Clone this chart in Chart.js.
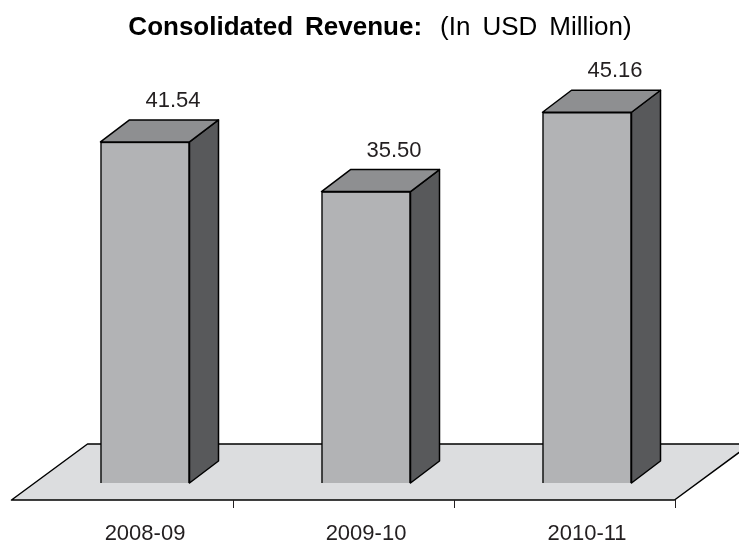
<!DOCTYPE html>
<html>
<head>
<meta charset="utf-8">
<title>Consolidated Revenue</title>
<script src="https://cdn.jsdelivr.net/npm/chart.js@4/dist/chart.umd.min.js"></script>
<style>
	html, body { margin: 0; padding: 0; background: #ffffff; }
	#wrap { width: 739px; height: 540px; }
</style>
</head>
<body>
<div id="wrap"><canvas id="revenue-chart" width="739" height="540"></canvas></div>
<script>
// revenue per financial year, USD million
const years = [ '2008-09', '2009-10', '2010-11' ];
const revenue = [ 41.54, 35.50, 45.16 ];

const fontFamily = "'Liberation Sans', Arial, Helvetica, sans-serif";
const textColor = '#231f20';

// bar depth (side + top faces) and floor geometry
const depth = { dx: 29, dy: -22 };
const floor = { shiftX: -23, shiftY: 17, dx: 76, dy: -56 };

/**
 * Floor under the bars, with tick marks at category boundaries.
 */
const floorPlugin = {
	id: 'floor3d',
	beforeDatasetsDraw: function ( chart ) {
		const ctx = chart.ctx;
		const area = chart.chartArea;
		const x0 = area.left + floor.shiftX;
		const x1 = area.right + floor.shiftX;
		const y0 = area.bottom + floor.shiftY;

		ctx.save();
		ctx.beginPath();
		ctx.moveTo( x0, y0 );
		ctx.lineTo( x1, y0 );
		ctx.lineTo( x1 + floor.dx, y0 + floor.dy );
		ctx.lineTo( x0 + floor.dx, y0 + floor.dy );
		ctx.closePath();
		ctx.fillStyle = '#dcdddf';
		ctx.fill();
		ctx.lineWidth = 1.5;
		ctx.lineJoin = 'round';
		ctx.strokeStyle = '#000000';
		ctx.stroke();

		// tick marks on the front edge
		const xScale = chart.scales.x;
		const half = ( xScale.getPixelForValue( 1 ) - xScale.getPixelForValue( 0 ) ) / 2;
		ctx.lineWidth = 1;
		ctx.strokeStyle = textColor;
		years.forEach( function ( year, i ) {
			const tx = Math.round( xScale.getPixelForValue( i ) + half + floor.shiftX ) + 0.5;
			ctx.beginPath();
			ctx.moveTo( tx, y0 );
			ctx.lineTo( tx, y0 + 8 );
			ctx.stroke();
		} );
		ctx.restore();
	}
};

/**
 * Side and top faces of each bar, plus the value on top.
 */
const boxPlugin = {
	id: 'box3d',
	afterDatasetsDraw: function ( chart ) {
		const ctx = chart.ctx;
		const meta = chart.getDatasetMeta( 0 );

		ctx.save();
		ctx.lineWidth = 1.5;
		ctx.lineJoin = 'round';
		ctx.strokeStyle = '#000000';

		meta.data.forEach( function ( bar, i ) {
			const left = bar.x - bar.width / 2;
			const right = bar.x + bar.width / 2;
			const top = bar.y;
			const bottom = bar.base;

			// side face
			ctx.beginPath();
			ctx.moveTo( right, top );
			ctx.lineTo( right + depth.dx, top + depth.dy );
			ctx.lineTo( right + depth.dx, bottom + depth.dy );
			ctx.lineTo( right, bottom );
			ctx.closePath();
			ctx.fillStyle = '#58595b';
			ctx.fill();
			ctx.stroke();

			// top face
			ctx.beginPath();
			ctx.moveTo( left, top );
			ctx.lineTo( left + depth.dx, top + depth.dy );
			ctx.lineTo( right + depth.dx, top + depth.dy );
			ctx.lineTo( right, top );
			ctx.closePath();
			ctx.fillStyle = '#8e8f91';
			ctx.fill();
			ctx.stroke();

			// value label
			ctx.fillStyle = textColor;
			ctx.font = '22px ' + fontFamily;
			ctx.textAlign = 'center';
			ctx.textBaseline = 'middle';
			ctx.fillText( revenue[i].toFixed( 2 ), bar.x + depth.dx - 1, top + depth.dy - 19 );
		} );
		ctx.restore();
	}
};

/**
 * Two-part title: bold caption followed by the unit, words spread a little.
 */
const titlePlugin = {
	id: 'mixedTitle',
	afterDraw: function ( chart ) {
		const ctx = chart.ctx;
		const parts = [
			{ text: 'Consolidated Revenue:', font: 'bold 26px ' + fontFamily },
			{ text: '(In USD Million)', font: '26px ' + fontFamily }
		];
		const wordGap = 12;
		const partGap = 18;

		ctx.save();
		ctx.fillStyle = '#000000';
		ctx.textBaseline = 'alphabetic';
		ctx.textAlign = 'left';

		// measure every word first so the whole line can be centred
		let total = 0;
		parts.forEach( function ( part, p ) {
			ctx.font = part.font;
			part.words = part.text.split( ' ' ).map( function ( w ) {
				return { text: w, width: ctx.measureText( w ).width };
			} );
			part.words.forEach( function ( w, i ) {
				total += w.width + ( i > 0 ? wordGap : 0 );
			} );
			if ( p > 0 )
				total += partGap;
		} );

		let x = 380 - total / 2;
		parts.forEach( function ( part, p ) {
			ctx.font = part.font;
			if ( p > 0 )
				x += partGap;
			part.words.forEach( function ( w, i ) {
				if ( i > 0 )
					x += wordGap;
				ctx.fillText( w.text, x, 35 );
				x += w.width;
			} );
		} );
		ctx.restore();
	}
};

new Chart( document.getElementById( 'revenue-chart' ).getContext( '2d' ), {
	type: 'bar',
	data: {
		labels: years,
		datasets: [ {
			data: revenue,
			backgroundColor: '#b2b3b5',
			borderColor: '#000000',
			borderWidth: 1.5,
			barThickness: 89
		} ]
	},
	options: {
		responsive: false,
		animation: false,
		layout: {
			padding: { top: 72.5, left: 34.5, right: 41.5, bottom: 0 }
		},
		plugins: {
			legend: { display: false },
			title: { display: false },
			tooltip: { enabled: false }
		},
		scales: {
			x: {
				grid: { display: false, drawTicks: false },
				border: { display: false },
				ticks: {
					color: textColor,
					padding: 38,
					font: { size: 22, family: fontFamily }
				},
				afterFit: function ( scale ) {
					scale.height = 57;
				}
			},
			y: {
				display: false,
				min: 0,
				max: 50
			}
		}
	},
	plugins: [ floorPlugin, boxPlugin, titlePlugin ]
} );
</script>
</body>
</html>
